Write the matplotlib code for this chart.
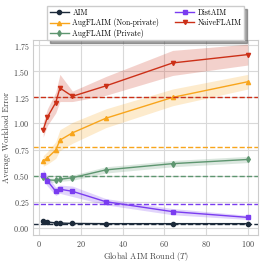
import matplotlib
matplotlib.use("Agg")
import matplotlib.pyplot as plt
import numpy as np

plt.rcParams['font.family'] = 'serif'
plt.rcParams['font.serif'] = ['cmr10', 'DejaVu Serif']
plt.rcParams['mathtext.fontset'] = 'cm'
plt.rcParams['axes.formatter.use_mathtext'] = True

rounds = [2, 4, 8, 10, 16, 32, 64, 100]

aim = [0.065, 0.055, 0.048, 0.046, 0.042, 0.04, 0.04, 0.04]
aim_err = [0.012, 0.01, 0.008, 0.008, 0.006, 0.005, 0.005, 0.005]
aim_central = 0.04

aug_np = [0.64, 0.67, 0.745, 0.84, 0.91, 1.05, 1.25, 1.40]
aug_np_err = [0.05, 0.06, 0.08, 0.1, 0.1, 0.09, 0.08, 0.07]
aug_np_central = 0.775

aug_p = [0.49, 0.46, 0.455, 0.465, 0.48, 0.555, 0.615, 0.655]
aug_p_err = [0.02, 0.02, 0.02, 0.02, 0.025, 0.03, 0.03, 0.03]
aug_p_central = 0.495

dist = [0.51, 0.45, 0.35, 0.37, 0.35, 0.25, 0.155, 0.10]
dist_err = [0.05, 0.05, 0.04, 0.04, 0.05, 0.03, 0.03, 0.02]
dist_central = 0.232

naive = [0.94, 1.06, 1.20, 1.34, 1.26, 1.36, 1.58, 1.66]
naive_err = [0.07, 0.08, 0.1, 0.13, 0.05, 0.09, 0.12, 0.1]
naive_central = 1.252

series = [
    ("AIM", aim, aim_err, aim_central, "#1c2a3a", "o"),
    ("AugFLAIM (Non-private)", aug_np, aug_np_err, aug_np_central, "#f8a51c", "^"),
    ("AugFLAIM (Private)", aug_p, aug_p_err, aug_p_central, "#5e9670", "d"),
    ("DistAIM", dist, dist_err, dist_central, "#7a3cf0", "s"),
    ("NaiveFLAIM", naive, naive_err, naive_central, "#cc3018", "v"),
]

fig = plt.figure(figsize=(2.66, 2.63), dpi=100)
ax = fig.add_axes([0.124, 0.106, 0.846, 0.742])

x = np.array(rounds)
for label, vals, err, central, color, marker in series:
    vals = np.array(vals)
    err = np.array(err)
    ax.plot(x, vals, color=color, marker=marker, markersize=3, linewidth=1,
            label=label)
    ax.fill_between(x, vals - err, vals + err, color=color, alpha=0.22,
                    linewidth=0)
    ax.axhline(central, color=color, linestyle='--', linewidth=1)

ax.set_ylim(-0.07, 1.8)
ax.set_yticks([0.0, 0.25, 0.5, 0.75, 1.0, 1.25, 1.5, 1.75])
ax.set_xticks([0, 20, 40, 60, 80, 100])
ax.grid(True, color='#d9d9d9', linewidth=0.8)
ax.set_axisbelow(True)
for s in ax.spines.values():
    s.set_color('#cccccc')
    s.set_linewidth(0.8)
ax.tick_params(axis='both', labelsize=5.8, length=0, pad=2.5, colors='#444444')
ax.tick_params(axis='x', pad=3)
ax.set_xlabel("Global AIM Round ($T$)", fontsize=6, color='#444444', labelpad=0.5)
ax.set_ylabel("Average Workload Error", fontsize=6, color='#444444', labelpad=1.5)

ax.legend(loc='lower center', bbox_to_anchor=(0.5, 0.98), ncol=2,
          fontsize=5.5, frameon=True, shadow=True, fancybox=False,
          borderpad=0.3, handlelength=2.6, handletextpad=0.4, columnspacing=2.0,
          labelspacing=0.2, edgecolor='#cccccc')

fig.savefig("out.png", dpi=100)
